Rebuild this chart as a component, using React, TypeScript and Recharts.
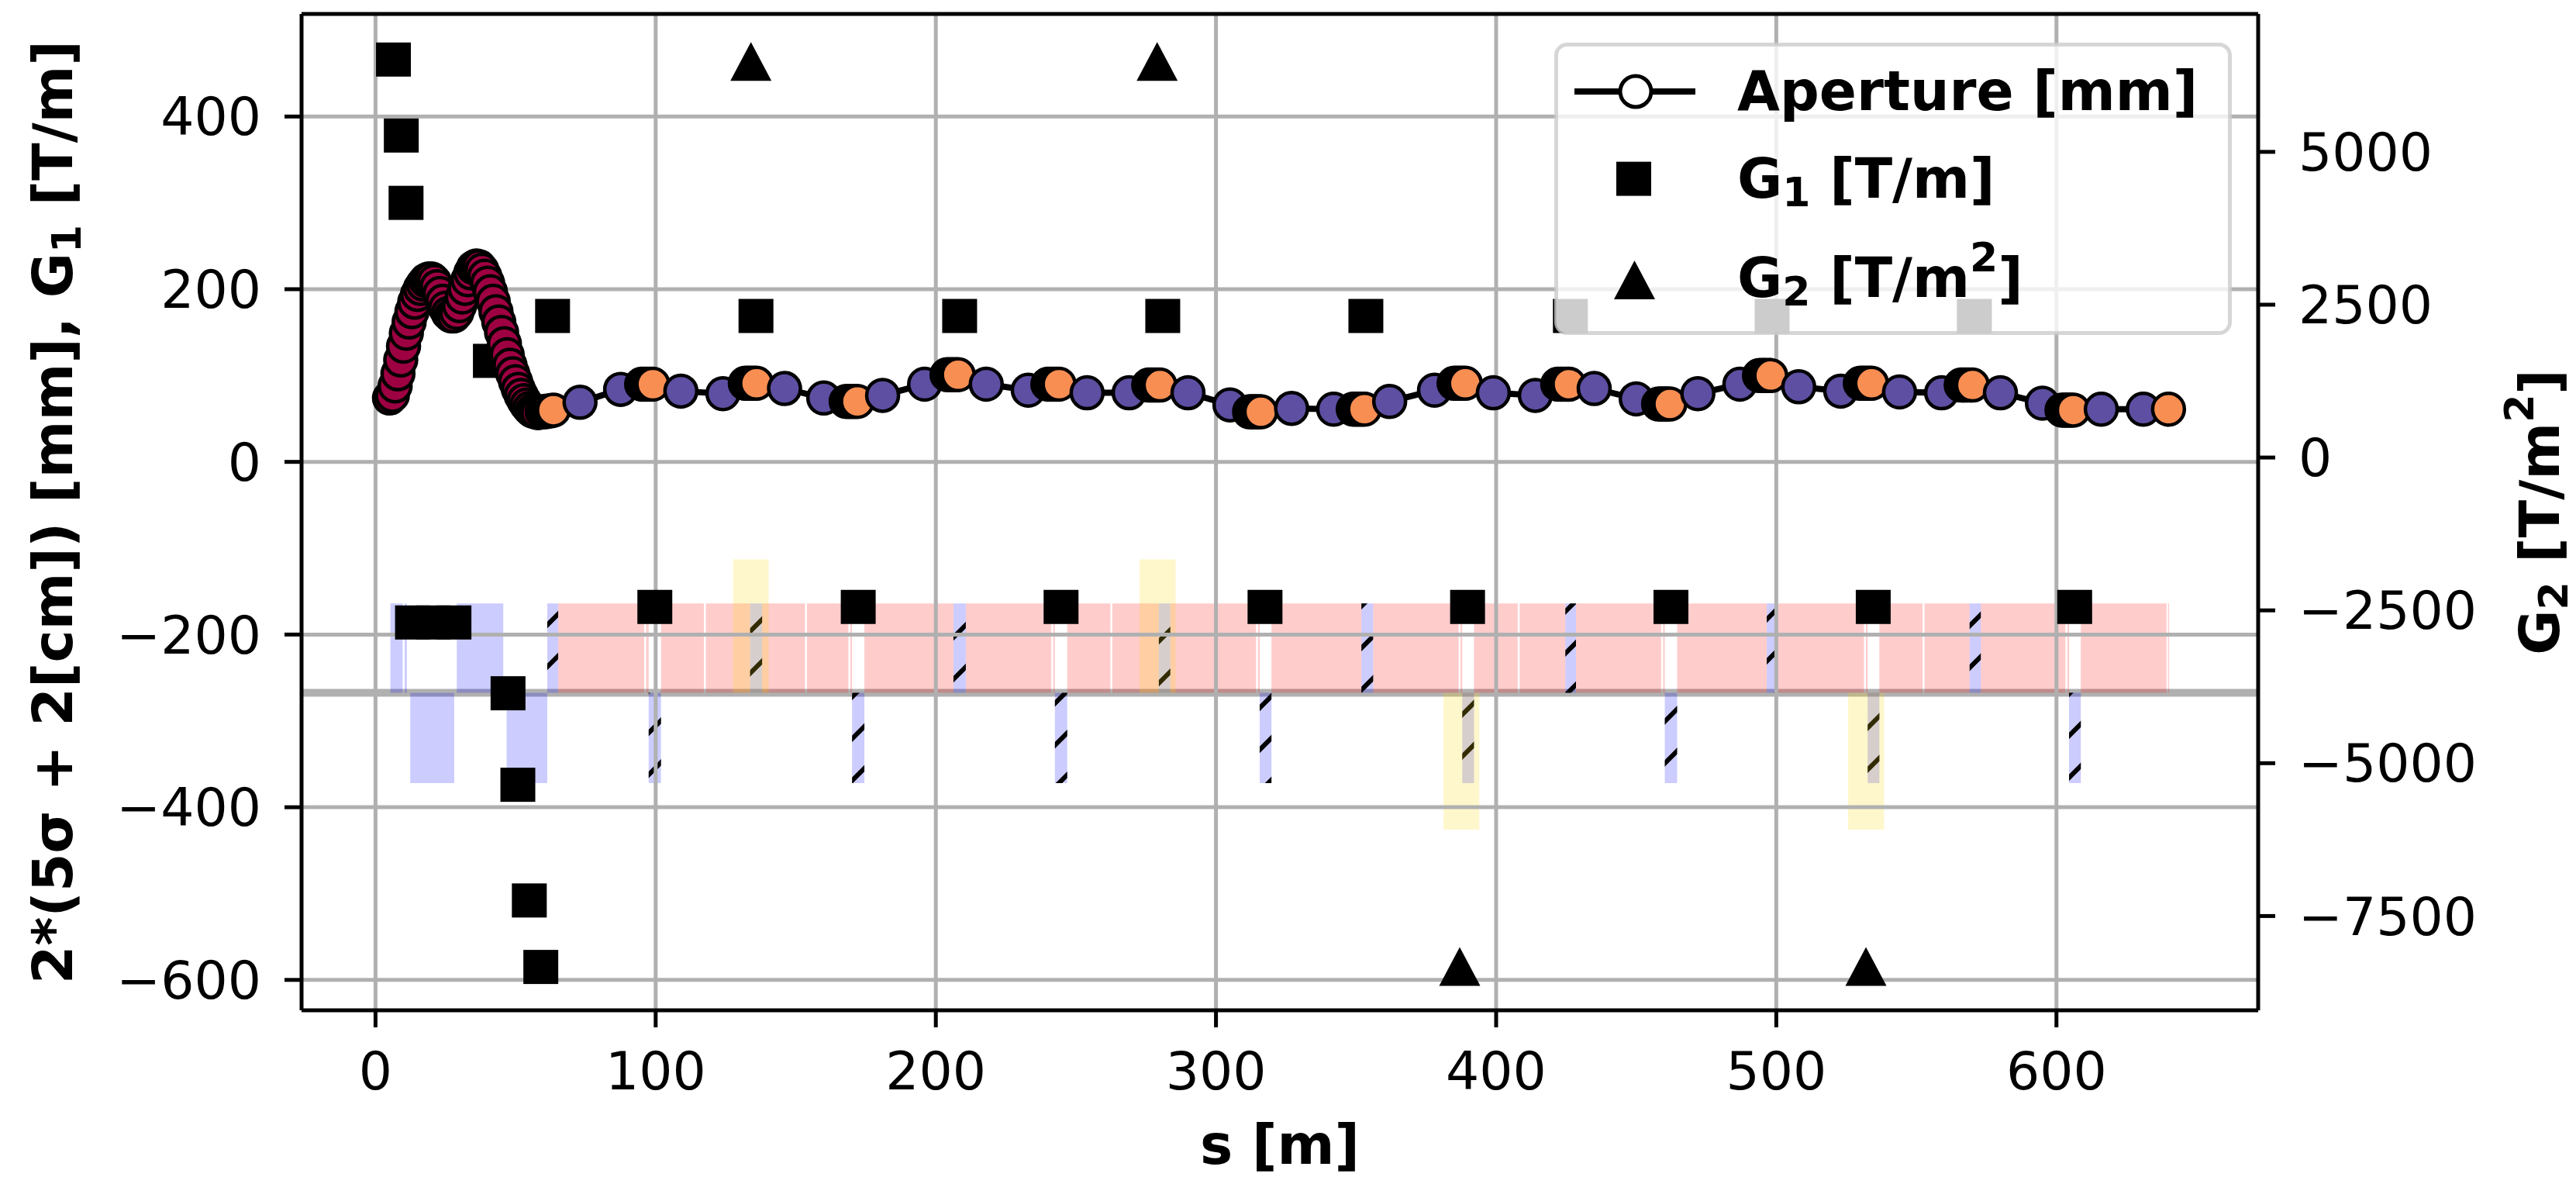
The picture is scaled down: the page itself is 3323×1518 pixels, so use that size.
import React from 'react';
import { ComposedChart, Scatter, XAxis, YAxis, ReferenceArea, ReferenceLine, Legend } from 'recharts';

const W = 3323;
const H = 1518;
const FONT = '"DejaVu Sans", Verdana, sans-serif';

// aperture through the matching section, 1 m sampling
const matchS = [5, 6, 7, 8, 9, 10, 11, 12, 13, 14, 15, 16, 17, 18, 19, 20, 21, 22, 23, 24, 25, 26, 27, 28, 29, 30, 31, 32, 33, 34, 35, 36, 37, 38, 39, 40, 41, 42, 43, 44, 45, 46, 47, 48, 49, 50, 51, 52, 53, 54, 55, 56, 57, 58];
const matchAperture = [74, 77, 88, 102, 118, 134, 149, 162, 174, 185, 194, 201, 206, 210, 212, 212, 209, 203, 195, 186, 178, 172, 169, 169, 173, 181, 191, 201, 211, 219, 225, 227, 226, 222, 215, 207, 197, 186, 174, 162, 150, 137, 124, 112, 102, 93, 84, 77, 71, 66, 62, 59, 58, 57];

// aperture in the FODO cells: q = quadrupole slices, d = dipole entry/exit
const cellS = [
  59.5, 60.5, 61.5, 62.5, 63.5,
  73, 87.5, 95, 96, 97, 98, 99,
  109, 124, 132, 133, 134, 135, 136,
  146, 160, 168, 169, 170, 171, 172,
  181, 196, 204, 205, 206, 207, 208,
  218, 233, 240, 241, 242, 243, 244,
  254, 269, 276, 277, 278, 279, 280,
  290, 305, 312, 313, 314, 315, 316,
  327, 342, 349, 350, 351, 352, 353,
  362, 378, 385, 386, 387, 388, 389,
  399, 414, 422, 423, 424, 425, 426,
  435, 450, 458, 459, 460, 461, 462,
  472, 487, 494, 495, 496, 497, 498,
  508, 523, 530, 531, 532, 533, 534,
  544, 559, 566, 567, 568, 569, 570,
  580, 595, 602, 603, 604, 605, 606,
  616, 631, 640,
];
const cellAperture = [
  58, 58, 59, 59, 60,
  69, 84, 90, 90, 90, 90, 90,
  82, 79, 91, 91, 91, 91, 91,
  85, 74, 70, 70, 70, 70, 70,
  77, 90, 101, 101, 101, 101, 101,
  90, 83, 90, 90, 90, 90, 90,
  80, 80, 89, 89, 89, 89, 89,
  80, 66, 58, 58, 58, 58, 58,
  62, 61, 61, 61, 61, 61, 61,
  70, 83, 91, 91, 91, 91, 91,
  80, 77, 90, 90, 90, 90, 90,
  85, 73, 67, 67, 67, 67, 67,
  79, 90, 100, 100, 100, 100, 100,
  87, 82, 91, 91, 91, 91, 91,
  81, 80, 89, 89, 89, 89, 89,
  80, 68, 60, 60, 60, 60, 60,
  61, 61, 61,
];
const cellKind = [
  'qqqqq',
  'ddqqqqq', 'ddqqqqq', 'ddqqqqq', 'ddqqqqq', 'ddqqqqq',
  'ddqqqqq', 'ddqqqqq', 'ddqqqqq', 'ddqqqqq', 'ddqqqqq',
  'ddqqqqq', 'ddqqqqq', 'ddqqqqq', 'ddqqqqq', 'ddqqqqq',
  'ddq',
].join('');

// quadrupole gradient G1 [T/m]
const g1S = [6.4, 9.2, 10.9, 13.2, 20.6, 28.0, 41.0, 47.3, 50.8, 54.9, 59.0, 63.2, 99.7, 135.8, 172.3, 208.5, 244.7, 281.0, 317.5, 353.5, 389.8, 426.5, 462.4, 498.5, 534.6, 570.7, 606.5];
const g1 = [466, 378, 300, -186, -186, -186, 117, -268, -374, -508, -585, 169, -168, 169, -168, 169, -168, 169, -168, 169, -168, 169, -168, 169, -168, 169, -168];

// sextupole gradient G2 [T/m^2]
const g2S = [134, 279, 387, 532];
const g2 = [6480, 6480, -8325, -8325];

// lattice layout drawn under the curves (s in m, heights in left-axis units)
const beamLineY = -267.5;
const magnetTop = -164;
const magnetBottom = -372;
const sextTop = -113;
const sextBottom = -426;

const matchQuadStart = [5.3, 10.4, 12.4, 29.0, 46.8];
const matchQuadEnd = [9.7, 11.2, 28.1, 45.6, 61.3];
const matchQuadSign = [1, 1, -1, 1, -1];

const quadStart = [61.3, 97.5, 133.7, 170.1, 206.3, 242.5, 279.6, 315.6, 351.9, 387.9, 424.7, 460.2, 496.6, 532.6, 569.0, 604.5];
const quadEnd = [65.2, 101.9, 138.0, 174.5, 210.7, 246.9, 283.7, 319.8, 356.1, 392.1, 428.5, 464.6, 500.4, 536.8, 573.0, 608.7];
const quadSign = [1, -1, 1, -1, 1, -1, 1, -1, 1, -1, 1, -1, 1, -1, 1, -1];

const sextStart = [127.6, 272.7, 381.2, 525.6];
const sextEnd = [140.3, 285.6, 394.0, 538.5];
const sextSign = [1, 1, -1, -1];

const dipoleStart = [65.2, 96.6, 101.9, 117.9, 138.0, 154.0, 169.5, 174.5, 210.7, 241.9, 246.9, 263.0, 283.7, 315.0, 319.8, 356.1, 387.3, 392.1, 408.4, 428.5, 459.6, 464.6, 500.4, 532.0, 536.8, 552.9, 573.0, 603.9, 608.7, 639.8];
const dipoleEnd = [95.9, 97.5, 117.2, 133.7, 153.3, 168.8, 170.1, 206.3, 241.2, 242.5, 262.3, 279.6, 314.3, 315.6, 351.9, 386.6, 387.9, 407.7, 424.7, 458.9, 460.2, 496.6, 531.3, 532.6, 552.2, 569.0, 603.2, 604.5, 639.3, 640.2];

const xTicks = [0, 100, 200, 300, 400, 500, 600];
const leftTicks = [-600, -400, -200, 0, 200, 400];
const rightTicks = [-7500, -5000, -2500, 0, 2500, 5000];

const kindColor: Record<string, string> = { m: '#9e0142', q: '#f98e52', d: '#5e4fa2' };

const apertureData = [
  ...matchS.map((s, i) => ({ s, v: matchAperture[i], kind: 'm' })),
  ...cellS.map((s, i) => ({ s, v: cellAperture[i], kind: cellKind[i] })),
];
const g1Data = g1S.map((s, i) => ({ s, v: g1[i] }));
const g2Data = g2S.map((s, i) => ({ s, v: g2[i] }));

const fmt = (v: number) => (v < 0 ? `\u2212${Math.abs(v)}` : `${v}`);

const tickStyle = { fontSize: 68, fill: '#000', fontFamily: FONT };
const titleStyle = { fontSize: 71, fontWeight: 'bold' as const, fill: '#000', fontFamily: FONT };

const SquareMark = (p: any) => <rect x={p.cx - 22.5} y={p.cy - 22} width={45} height={44} fill="#000" />;
const TriangleMark = (p: any) => (
  <path d={`M${p.cx},${p.cy - 25}L${p.cx + 26.5},${p.cy + 25}L${p.cx - 26.5},${p.cy + 25}Z`} fill="#000" />
);
const ApertureMark = (p: any) => (
  <circle cx={p.cx} cy={p.cy} r={20.5} fill={kindColor[p.payload.kind]} stroke="#000" strokeWidth={4.5} />
);

const XTitle = (p: any) => (
  <text x={p.viewBox.x + p.viewBox.width / 2} y={p.viewBox.y + 198} textAnchor="middle" {...titleStyle}>
    s [m]
  </text>
);

const LeftTitle = (p: any) => {
  const x = p.viewBox.x + 93;
  const y = p.viewBox.y + p.viewBox.height / 2;
  return (
    <text x={x} y={y} transform={`rotate(-90, ${x}, ${y})`} textAnchor="middle" {...titleStyle} style={{ whiteSpace: 'pre' }}>
      2*(5σ + 2[cm]) [mm], G<tspan fontSize={52} dy={11}>1</tspan>
      <tspan dy={-11}> [T/m]</tspan>
    </text>
  );
};

const RightTitle = (p: any) => {
  const x = p.viewBox.x + 388;
  const y = p.viewBox.y + p.viewBox.height / 2;
  return (
    <text x={x} y={y} transform={`rotate(-90, ${x}, ${y})`} textAnchor="middle" {...titleStyle} style={{ whiteSpace: 'pre' }}>
      G<tspan fontSize={52} dy={11}>2</tspan>
      <tspan dy={-11}> [T/m</tspan>
      <tspan fontSize={52} dy={-33}>2</tspan>
      <tspan dy={33}>]</tspan>
    </text>
  );
};

const LegendBox = () => (
  <svg width={874} height={377} style={{ display: 'block', overflow: 'visible' }}>
    <rect x={2.5} y={2.5} width={869} height={372} rx={14} fill="#fff" fillOpacity={0.8} stroke="#cccccc" strokeOpacity={0.8} strokeWidth={5} />
    <line x1={26} y1={63} x2={182} y2={63} stroke="#000" strokeWidth={8} />
    <circle cx={105} cy={63} r={20} fill="#fff" stroke="#000" strokeWidth={5} />
    <text x={236} y={86.5} {...titleStyle}>Aperture [mm]</text>
    <rect x={80} y={153.6} width={45} height={44} fill="#000" />
    <text x={236} y={199.5} {...titleStyle} style={{ whiteSpace: 'pre' }}>
      G<tspan fontSize={52} dy={11}>1</tspan>
      <tspan dy={-11}> [T/m]</tspan>
    </text>
    <path d="M103.5,281L130,331L77,331Z" fill="#000" />
    <text x={236} y={327.5} {...titleStyle} style={{ whiteSpace: 'pre' }}>
      G<tspan fontSize={52} dy={11}>2</tspan>
      <tspan dy={-11}> [T/m</tspan>
      <tspan fontSize={52} dy={-33}>2</tspan>
      <tspan dy={33}>]</tspan>
    </text>
  </svg>
);

export default function App() {
  return (
    <div style={{ position: 'absolute', left: 0, top: 0, width: W, height: H, background: '#fff' }}>
      <ComposedChart width={W} height={H} margin={{ top: 18, right: 0, bottom: 0, left: 0 }}>
        <defs>
          <pattern id="quadHatch" patternUnits="userSpaceOnUse" width={54} height={54}>
            <path d="M-13.5,13.5L13.5,-13.5M0,54L54,0M40.5,67.5L67.5,40.5" stroke="#000" strokeWidth={6} />
          </pattern>
        </defs>
        <XAxis
          type="number"
          dataKey="s"
          domain={[-26.4, 672]}
          allowDataOverflow
          ticks={xTicks}
          interval={0}
          height={215}
          tick={tickStyle}
          tickSize={22}
          tickMargin={32}
          tickLine={{ stroke: '#000', strokeWidth: 5 }}
          axisLine={{ stroke: '#000', strokeWidth: 5 }}
          label={{ content: XTitle }}
        />
        <YAxis
          yAxisId="L"
          type="number"
          domain={[-635.2, 518.8]}
          allowDataOverflow
          ticks={leftTicks}
          interval={0}
          width={389}
          tick={tickStyle}
          tickFormatter={fmt}
          tickSize={22}
          tickMargin={30}
          tickLine={{ stroke: '#000', strokeWidth: 5 }}
          axisLine={{ stroke: '#000', strokeWidth: 5 }}
          label={{ content: LeftTitle }}
        />
        <YAxis
          yAxisId="R"
          orientation="right"
          type="number"
          domain={[-9042, 7256]}
          allowDataOverflow
          ticks={rightTicks}
          interval={0}
          width={410}
          tick={tickStyle}
          tickFormatter={fmt}
          tickSize={22}
          tickMargin={30}
          tickLine={{ stroke: '#000', strokeWidth: 5 }}
          axisLine={{ stroke: '#000', strokeWidth: 5 }}
          label={{ content: RightTitle }}
        />

        {/* beam line */}
        <ReferenceArea yAxisId="L" x1={-26.4} x2={672} y1={beamLineY - 4.5} y2={beamLineY + 4.5} fill="#b0b0b0" fillOpacity={1} stroke="none" />

        {/* dipoles */}
        {dipoleStart.map((a, i) => (
          <ReferenceArea key={`dip${i}`} yAxisId="L" x1={a} x2={dipoleEnd[i]} y1={beamLineY} y2={magnetTop} fill="#ff0000" fillOpacity={0.2} stroke="none" />
        ))}

        {/* matching quadrupoles */}
        {matchQuadStart.map((a, i) => (
          <ReferenceArea key={`mq${i}`} yAxisId="L" x1={a} x2={matchQuadEnd[i]} y1={beamLineY} y2={matchQuadSign[i] > 0 ? magnetTop : magnetBottom} fill="#0000ff" fillOpacity={0.2} stroke="none" />
        ))}

        {/* cell quadrupoles */}
        {quadStart.map((a, i) => (
          <ReferenceArea key={`q${i}`} yAxisId="L" x1={a} x2={quadEnd[i]} y1={beamLineY} y2={quadSign[i] > 0 ? magnetTop : magnetBottom} fill="#0000ff" fillOpacity={0.2} stroke="none" />
        ))}
        {quadStart.map((a, i) => (
          <ReferenceArea key={`qh${i}`} yAxisId="L" x1={a} x2={quadEnd[i]} y1={beamLineY} y2={quadSign[i] > 0 ? magnetTop : magnetBottom} fill="url(#quadHatch)" fillOpacity={1} stroke="none" />
        ))}

        {/* sextupoles */}
        {sextStart.map((a, i) => (
          <ReferenceArea key={`sx${i}`} yAxisId="L" x1={a} x2={sextEnd[i]} y1={beamLineY} y2={sextSign[i] > 0 ? sextTop : sextBottom} fill="#ffd700" fillOpacity={0.2} stroke="none" />
        ))}

        {/* grid */}
        {xTicks.map((v) => (
          <ReferenceLine key={`gx${v}`} yAxisId="L" x={v} stroke="#b0b0b0" strokeWidth={5} />
        ))}
        {leftTicks.map((v) => (
          <ReferenceLine key={`gy${v}`} yAxisId="L" y={v} stroke="#b0b0b0" strokeWidth={5} />
        ))}
        <ReferenceLine yAxisId="L" y={518.8} stroke="#000" strokeWidth={5} />

        <Scatter name="G1 [T/m]" yAxisId="L" data={g1Data} dataKey="v" shape={SquareMark} isAnimationActive={false} />
        <Scatter name="G2 [T/m2]" yAxisId="R" data={g2Data} dataKey="v" shape={TriangleMark} isAnimationActive={false} />
        <Scatter
          name="Aperture [mm]"
          yAxisId="L"
          data={apertureData}
          dataKey="v"
          shape={ApertureMark}
          line={{ stroke: '#000', strokeWidth: 8 }}
          isAnimationActive={false}
        />

        <Legend
          layout="vertical"
          align="center"
          verticalAlign="middle"
          wrapperStyle={{ position: 'absolute', left: 2005, top: 55, width: 874, height: 377, margin: 0, padding: 0 }}
          content={() => <LegendBox />}
        />
      </ComposedChart>
    </div>
  );
}
